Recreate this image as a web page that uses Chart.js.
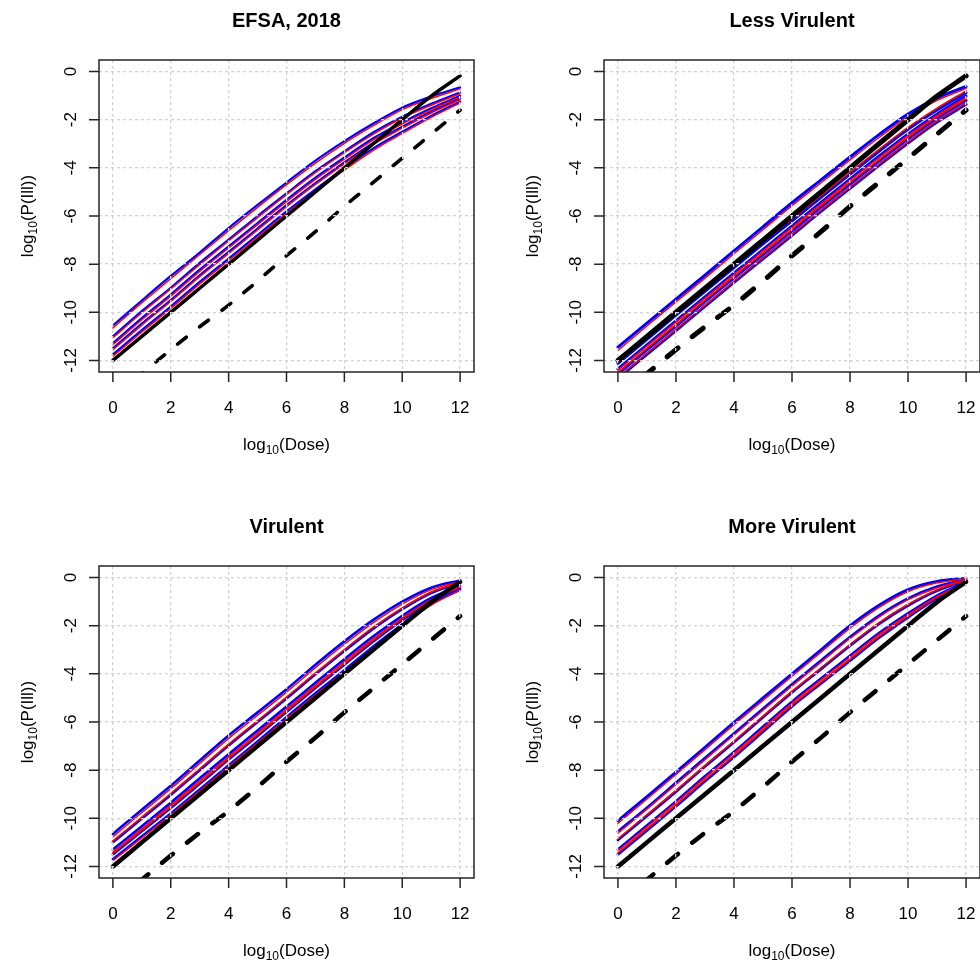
<!DOCTYPE html>
<html>
<head>
<meta charset="utf-8">
<script src="https://cdn.jsdelivr.net/npm/chart.js@4.4.1/dist/chart.umd.min.js"></script>
<style>
  html, body { margin: 0; padding: 0; background: #fff; overflow: hidden; }
  .panel { position: absolute; left: 0; top: 0; width: 980px; height: 960px; }
</style>
</head>
<body>
<div class="panel"><canvas id="p1" width="980" height="960"></canvas></div>
<div class="panel"><canvas id="p2" width="980" height="960"></canvas></div>
<div class="panel"><canvas id="p3" width="980" height="960"></canvas></div>
<div class="panel"><canvas id="p4" width="980" height="960"></canvas></div>
<script>
// log10(dose) grid the curves are read at
var dose = [0, 1, 2, 3, 4, 5, 6, 7, 8, 9, 10, 11, 12];
var xTicks = [0, 2, 4, 6, 8, 10, 12];
var yTicks = [0, -2, -4, -6, -8, -10, -12];

// black reference curves, same in every panel
var refSolid  = [-12.0, -11.0, -10.0, -9.0, -8.0, -7.0, -6.0, -5.0, -4.0, -3.0, -2.0, -1.02, -0.18];
var refDashed = [-13.55, -12.55, -11.55, -10.6, -9.7, -8.7, -7.65, -6.65, -5.6, -4.6, -3.6, -2.6, -1.6];

// EFSA, 2018
var efsaBlue = [
  [-10.55, -9.51, -8.49, -7.52, -6.5, -5.54, -4.61, -3.7, -2.89, -2.16, -1.5, -1.04, -0.65],
  [-11.0, -9.95, -8.98, -7.95, -6.98, -6.0, -5.06, -4.14, -3.32, -2.53, -1.88, -1.34, -0.87],
  [-11.28, -10.24, -9.26, -8.23, -7.26, -6.29, -5.33, -4.41, -3.57, -2.77, -2.11, -1.52, -1.01],
  [-11.5, -10.47, -9.49, -8.46, -7.49, -6.52, -5.55, -4.63, -3.77, -2.96, -2.29, -1.66, -1.12],
  [-11.75, -10.74, -9.76, -8.74, -7.77, -6.79, -5.81, -4.89, -4.01, -3.19, -2.5, -1.84, -1.25]
];
var efsaRed = [
  [-10.65, -9.6, -8.6, -7.6, -6.61, -5.64, -4.7, -3.8, -2.98, -2.25, -1.58, -1.12, -0.72],
  [-11.06, -10.02, -9.03, -8.02, -7.03, -6.07, -5.11, -4.2, -3.37, -2.6, -1.93, -1.4, -0.92],
  [-11.35, -10.31, -9.33, -8.3, -7.33, -6.36, -5.4, -4.48, -3.64, -2.84, -2.17, -1.58, -1.06],
  [-11.56, -10.53, -9.55, -8.52, -7.55, -6.58, -5.61, -4.69, -3.83, -3.02, -2.35, -1.72, -1.17],
  [-11.83, -10.82, -9.84, -8.82, -7.85, -6.87, -5.89, -4.97, -4.09, -3.27, -2.57, -1.9, -1.3]
];

// Less Virulent
var lessBlue = [
  [-11.45, -10.45, -9.45, -8.46, -7.45, -6.45, -5.45, -4.5, -3.55, -2.62, -1.76, -1.1, -0.62],
  [-12.12, -11.12, -10.12, -9.13, -8.14, -7.16, -6.2, -5.22, -4.26, -3.31, -2.4, -1.6, -0.88],
  [-12.35, -11.35, -10.36, -9.36, -8.37, -7.4, -6.42, -5.44, -4.47, -3.52, -2.6, -1.77, -1.02],
  [-12.56, -11.56, -10.57, -9.56, -8.57, -7.6, -6.62, -5.63, -4.67, -3.72, -2.79, -1.94, -1.2],
  [-12.75, -11.75, -10.76, -9.75, -8.76, -7.78, -6.8, -5.81, -4.85, -3.9, -2.97, -2.1, -1.36]
];
var lessRed = [
  [-11.58, -10.57, -9.57, -8.58, -7.57, -6.57, -5.57, -4.62, -3.67, -2.74, -1.87, -1.2, -0.7],
  [-12.04, -11.04, -10.04, -9.05, -8.06, -7.08, -6.12, -5.14, -4.18, -3.23, -2.32, -1.52, -0.8],
  [-12.4, -11.4, -10.41, -9.41, -8.42, -7.45, -6.47, -5.49, -4.52, -3.57, -2.65, -1.82, -1.07],
  [-12.5, -11.5, -10.51, -9.5, -8.51, -7.54, -6.56, -5.57, -4.61, -3.66, -2.73, -1.88, -1.14],
  [-12.7, -11.7, -10.71, -9.7, -8.71, -7.73, -6.75, -5.76, -4.8, -3.85, -2.92, -2.05, -1.31]
];

// Virulent
var virBlue = [
  [-10.65, -9.64, -8.65, -7.6, -6.56, -5.6, -4.64, -3.62, -2.65, -1.76, -1.0, -0.42, -0.12],
  [-11.0, -10.01, -9.03, -8.0, -6.98, -6.0, -5.02, -4.02, -3.05, -2.12, -1.31, -0.64, -0.22],
  [-11.3, -10.33, -9.35, -8.34, -7.34, -6.35, -5.36, -4.37, -3.39, -2.44, -1.59, -0.85, -0.34],
  [-11.5, -10.54, -9.57, -8.57, -7.56, -6.58, -5.58, -4.59, -3.62, -2.65, -1.77, -0.97, -0.42],
  [-11.7, -10.75, -9.8, -8.8, -7.8, -6.81, -5.8, -4.81, -3.85, -2.86, -1.95, -1.1, -0.5]
];
var virRed = [
  [-10.77, -9.76, -8.77, -7.72, -6.68, -5.72, -4.76, -3.74, -2.77, -1.87, -1.1, -0.5, -0.16],
  [-10.94, -9.95, -8.97, -7.94, -6.92, -5.94, -4.96, -3.96, -2.99, -2.06, -1.26, -0.6, -0.19],
  [-11.4, -10.43, -9.45, -8.44, -7.44, -6.45, -5.46, -4.47, -3.49, -2.54, -1.68, -0.92, -0.38],
  [-11.45, -10.49, -9.52, -8.52, -7.51, -6.53, -5.53, -4.54, -3.57, -2.6, -1.72, -0.93, -0.4],
  [-11.76, -10.81, -9.86, -8.86, -7.86, -6.87, -5.86, -4.87, -3.91, -2.92, -2.0, -1.14, -0.52]
];

// More Virulent
var moreBlue = [
  [-10.1, -9.1, -8.08, -7.05, -6.01, -5.0, -4.0, -3.0, -2.0, -1.15, -0.5, -0.16, -0.02],
  [-10.55, -9.56, -8.53, -7.5, -6.48, -5.45, -4.44, -3.45, -2.47, -1.58, -0.87, -0.38, -0.08],
  [-10.9, -9.9, -8.89, -7.85, -6.84, -5.8, -4.77, -3.8, -2.83, -1.92, -1.16, -0.55, -0.12],
  [-11.3, -10.3, -9.3, -8.26, -7.25, -6.2, -5.16, -4.2, -3.25, -2.31, -1.49, -0.75, -0.17],
  [-11.5, -10.5, -9.5, -8.46, -7.45, -6.4, -5.35, -4.4, -3.45, -2.5, -1.65, -0.85, -0.2]
];
var moreRed = [
  [-10.2, -9.2, -8.18, -7.15, -6.11, -5.1, -4.1, -3.1, -2.1, -1.24, -0.58, -0.22, -0.05],
  [-10.61, -9.62, -8.59, -7.56, -6.54, -5.51, -4.5, -3.51, -2.53, -1.64, -0.92, -0.42, -0.1],
  [-10.85, -9.85, -8.84, -7.8, -6.79, -5.75, -4.72, -3.75, -2.78, -1.87, -1.11, -0.51, -0.1],
  [-11.35, -10.35, -9.35, -8.31, -7.3, -6.25, -5.21, -4.25, -3.3, -2.36, -1.54, -0.79, -0.19],
  [-11.44, -10.44, -9.44, -8.4, -7.39, -6.34, -5.29, -4.34, -3.39, -2.44, -1.6, -0.81, -0.18]
];

var FONT = '"Liberation Sans", Arial, sans-serif';

// box = plot region in page pixels [left, top, right, bottom]
var panels = [
  {id: 'p1', title: 'EFSA, 2018',    blue: efsaBlue, red: efsaRed, box: [99, 60, 474, 372],  solidW: 3.5, dashW: 3.6, dash: [11, 17], blueW: 2.2, redW: 1.5},
  {id: 'p2', title: 'Less Virulent', blue: lessBlue, red: lessRed, box: [604, 60, 980, 372], solidW: 5,   dashW: 5,   dash: [14, 18], blueW: 3,   redW: 1.5},
  {id: 'p3', title: 'Virulent',      blue: virBlue,  red: virRed,  box: [99, 566, 474, 878], solidW: 4.5, dashW: 4.5, dash: [14, 18], blueW: 2.6, redW: 1.5},
  {id: 'p4', title: 'More Virulent', blue: moreBlue, red: moreRed, box: [604, 566, 980, 878], solidW: 4.5, dashW: 4.5, dash: [14, 18], blueW: 2.8, redW: 1.5}
];

function toPts(vals) {
  return dose.map(function(d, i) { return {x: d, y: vals[i]}; });
}

// "log" + subscript "10" + rest, centred on cx
function drawSub(ctx, head, sub, tail, cx, y) {
  ctx.font = '17px ' + FONT;
  var w1 = ctx.measureText(head).width, w3 = ctx.measureText(tail).width;
  ctx.font = '12px ' + FONT;
  var w2 = ctx.measureText(sub).width;
  var x = cx - (w1 + w2 + w3) / 2;
  ctx.textAlign = 'left';
  ctx.font = '17px ' + FONT;
  ctx.fillText(head, x, y);
  ctx.font = '12px ' + FONT;
  ctx.fillText(sub, x + w1, y + 4);
  ctx.font = '17px ' + FONT;
  ctx.fillText(tail, x + w1 + w2, y);
}

// R style frame: box, outward ticks, labels, title
var rFrame = {
  id: 'rFrame',
  afterDraw: function(chart, args, opts) {
    var ctx = chart.ctx, a = chart.chartArea;
    var xs = chart.scales.x, ys = chart.scales.y;
    ctx.save();
    ctx.strokeStyle = '#262626';
    ctx.lineWidth = 1.5;
    ctx.strokeRect(a.left, a.top, a.right - a.left, a.bottom - a.top);

    ctx.beginPath();
    xTicks.forEach(function(v) {
      var px = xs.getPixelForValue(v);
      ctx.moveTo(px, a.bottom);
      ctx.lineTo(px, a.bottom + 10);
    });
    yTicks.forEach(function(v) {
      var py = ys.getPixelForValue(v);
      ctx.moveTo(a.left, py);
      ctx.lineTo(a.left - 10, py);
    });
    ctx.stroke();

    ctx.fillStyle = '#000';
    ctx.font = '17px ' + FONT;
    ctx.textAlign = 'center';
    ctx.textBaseline = 'alphabetic';
    xTicks.forEach(function(v) {
      ctx.fillText(String(v), xs.getPixelForValue(v), a.bottom + 41);
    });
    yTicks.forEach(function(v) {
      ctx.save();
      ctx.translate(a.left - 23, ys.getPixelForValue(v));
      ctx.rotate(-Math.PI / 2);
      ctx.fillText(String(v), 0, 0);
      ctx.restore();
    });

    ctx.font = 'bold 20px ' + FONT;
    ctx.fillText(opts.title, (a.left + a.right) / 2, a.top - 33);

    drawSub(ctx, 'log', '10', '(Dose)', (a.left + a.right) / 2, a.bottom + 78);
    ctx.save();
    ctx.translate(a.left - 66, (a.top + a.bottom) / 2);
    ctx.rotate(-Math.PI / 2);
    drawSub(ctx, 'log', '10', '(P(Ill))', 0, 0);
    ctx.restore();
    ctx.restore();
  }
};

panels.forEach(function(p) {
  var common = {showLine: true, pointRadius: 0, fill: false, clip: 0,
                cubicInterpolationMode: 'monotone', borderCapStyle: 'round', borderJoinStyle: 'round'};
  var ds = [];
  // first dataset is drawn on top
  ds.push(Object.assign({data: toPts(refSolid), borderColor: '#000', borderWidth: p.solidW}, common));
  ds.push(Object.assign({data: toPts(refDashed), borderColor: '#000', borderWidth: p.dashW, borderDash: p.dash}, common));
  p.red.forEach(function(r) {
    ds.push(Object.assign({data: toPts(r), borderColor: '#ff0000', borderWidth: p.redW}, common));
  });
  p.blue.forEach(function(b) {
    ds.push(Object.assign({data: toPts(b), borderColor: '#0000ff', borderWidth: p.blueW}, common));
  });

  new Chart(document.getElementById(p.id), {
    type: 'scatter',
    data: {datasets: ds},
    plugins: [rFrame],
    options: {
      responsive: false,
      animation: false,
      events: [],
      layout: {padding: {left: p.box[0], top: p.box[1], right: 980 - p.box[2], bottom: 960 - p.box[3]}},
      plugins: {legend: {display: false}, tooltip: {enabled: false}, rFrame: {title: p.title}},
      scales: {
        x: {
          type: 'linear', min: -0.48, max: 12.48,
          afterBuildTicks: function(s) { s.ticks = xTicks.map(function(v) { return {value: v}; }); },
          ticks: {display: false},
          grid: {color: '#d3d3d3', lineWidth: 1.3, drawTicks: false, z: 1},
          border: {display: false, dash: [3, 3]}
        },
        y: {
          type: 'linear', min: -12.48, max: 0.48,
          afterBuildTicks: function(s) { s.ticks = yTicks.map(function(v) { return {value: v}; }); },
          ticks: {display: false},
          grid: {color: '#d3d3d3', lineWidth: 1.3, drawTicks: false, z: 1},
          border: {display: false, dash: [3, 3]}
        }
      }
    }
  });
});
</script>
</body>
</html>
